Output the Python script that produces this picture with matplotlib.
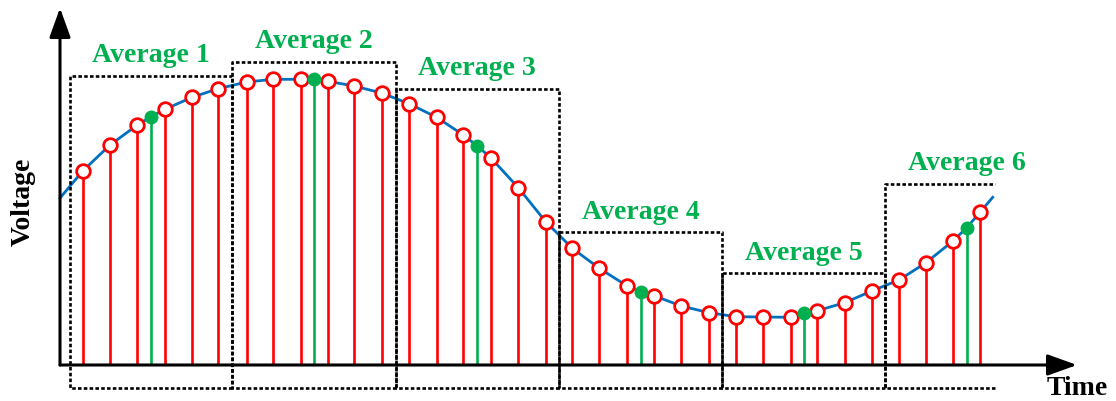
import matplotlib
matplotlib.use("Agg")
import matplotlib.pyplot as plt

# ---------------- data (time / voltage) ----------------
sample_t = [23, 50, 77.3, 105, 132, 158.3, 186.7, 213.3, 240.7, 268, 294, 321.7,
            349, 376.7, 403.3, 431, 458.3, 485.7, 512.3, 539.3, 566.7, 594, 621.3, 649,
            676, 702.7, 730.7, 757.3, 784.7, 811.7, 839, 866, 893.3, 920.3]
sample_v = [194.3, 220, 240, 255.7, 267.7, 276.3, 283, 285.7, 285.7, 283.7, 279, 272,
            261.3, 247.7, 230, 207, 177.3, 143.3, 116.7, 96.7, 79.3, 69.3, 59, 52.3,
            48.3, 48, 47.7, 54.3, 62.3, 74, 85, 102.3, 124.3, 153]

avg_t = [91, 254.3, 417.3, 580.7, 744, 906.7]
avg_v = [248.3, 285.7, 219, 73, 51.7, 137.3]

curve_start = (0, 167)
curve_end = (932.7, 167.7)

labels = ["Average 1", "Average 2", "Average 3", "Average 4", "Average 5", "Average 6"]
label_baseline = [303.3, 317.3, 290, 145.7, 105, 195]

box_edges = [10, 172, 336, 499, 662, 825, 935]
box_tops = [289, 303.3, 276.3, 133.3, 92.3, 181]
box_bottom = -23

x_tip = 1017
y_tip = 357

RED = "#FF0000"
GREEN = "#00B050"
BLUE = "#0070C0"

# ---------------- figure ----------------
fig = plt.figure(figsize=(11.16, 4.01), dpi=100)
ax = fig.add_axes([0, 0, 1, 1])
ax.set_xlim(-60, 1056)
ax.set_ylim(-36, 365)
ax.axis("off")

# blue curve through all points
pts = sorted(list(zip(sample_t, sample_v)) + list(zip(avg_t, avg_v)))
pts = [curve_start] + pts + [curve_end]
ax.plot([p[0] for p in pts], [p[1] for p in pts], color=BLUE, lw=2.0, zorder=3,
        solid_joinstyle="round")

# red stems + hollow markers
ax.vlines(sample_t, 0, sample_v, colors=RED, lw=1.9, zorder=2)
ax.plot(sample_t, sample_v, "o", ms=9.8, mfc="white", mec=RED, mew=2.0, zorder=4)

# green stems + filled markers
ax.vlines(avg_t, 0, avg_v, colors=GREEN, lw=1.9, zorder=2)
ax.plot(avg_t, avg_v, "o", ms=9, mfc=GREEN, mec=GREEN, zorder=5)

# dashed boxes
dash = (0, (1.35, 0.85))
for i in range(6):
    x0, x1 = box_edges[i], box_edges[i + 1]
    top = box_tops[i]
    if i < 5:
        xs = [x1, x0, x0, x1, x1]
        ys = [box_bottom, box_bottom, top, top, box_bottom]
    else:
        xs = [x1, x0, x0, x1]
        ys = [box_bottom, box_bottom, top, top]
    ax.plot(xs, ys, color="black", lw=1.9, ls=dash, zorder=6)

# labels
for t, b, s in zip(avg_t, label_baseline, labels):
    ax.text(t, b, s, color=GREEN, fontsize=20, fontweight="bold",
            family="Liberation Serif", ha="center", va="baseline", zorder=7)

# axes with arrows
arrow = dict(arrowstyle="-|>,head_length=1.25,head_width=0.45", mutation_scale=14.4,
             lw=2.2, color="black", shrinkA=0, shrinkB=0)
ax.annotate("", xy=(x_tip, 0), xytext=(0, 0), arrowprops=arrow, zorder=8)
ax.annotate("", xy=(0, y_tip), xytext=(0, 0), arrowprops=arrow, zorder=8)

ax.text(-37, 163, "Voltage", rotation=90, fontsize=20, fontweight="bold",
        family="Liberation Serif", ha="center", va="center")
ax.text(1017, -30, "Time", fontsize=20, fontweight="bold",
        family="Liberation Serif", ha="center", va="baseline")

fig.savefig("out.png", dpi=100)
